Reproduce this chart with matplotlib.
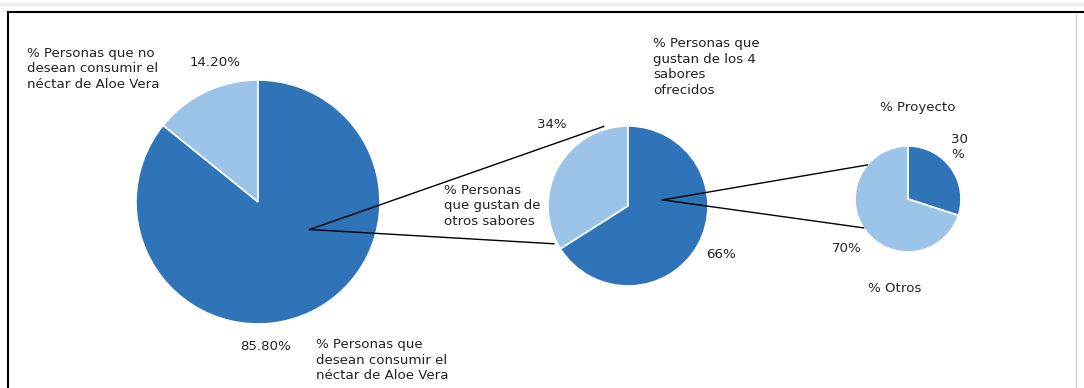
import matplotlib.pyplot as plt
import numpy as np

# survey results, three nested pies
consumo_vals = [14.2, 85.8]
consumo_labels = ['14.20%', '85.80%']
sabores_vals = [34, 66]
sabores_labels = ['34%', '66%']
proyecto_vals = [30, 70]
proyecto_labels = ['30\n%', '70%']

dark = '#2f73b8'
light = '#9cc3e8'
W, H = 1084, 388

plt.rcParams['font.family'] = ['DejaVu Sans']

fig = plt.figure(figsize=(W / 100, H / 100), dpi=100)
ax = fig.add_axes([0, 0, 1, 1])

# pie centres and radii in pixel units (y down)
p1 = (258, 202, 122)
p2 = (628, 206, 80)
p3 = (908, 199, 53)


def draw_pie(p, vals, colors, counterclock):
    cx, cy, r = p
    # axis is y-down, so flip the direction to keep the slices where they belong
    ax.pie(vals, colors=colors, center=(cx, cy), radius=r, startangle=-90,
           counterclock=not counterclock, frame=True,
           wedgeprops=dict(edgecolor='white', linewidth=1.2))


def pt(p, ang, frac):
    cx, cy, r = p
    a = np.radians(ang)
    return cx + frac * r * np.cos(a), cy - frac * r * np.sin(a)


draw_pie(p1, consumo_vals, [light, dark], True)
draw_pie(p2, sabores_vals, [light, dark], True)
draw_pie(p3, proyecto_vals, [dark, light], False)
ax.set_xlim(0, W)
ax.set_ylim(H, 0)
ax.set_aspect('equal')
ax.axis('off')

# connector lines between the pies
s1 = pt(p1, -28, 0.48)
for ang in (107, 207):
    e = pt(p2, ang, 1.04)
    ax.plot([s1[0], e[0]], [s1[1], e[1]], color='black', lw=1.0)
s2 = pt(p2, 10, 0.44)
for ang in (140, 213):
    e = pt(p3, ang, 1.0)
    ax.plot([s2[0], e[0]], [s2[1], e[1]], color='black', lw=1.0)

# frame: dark top and left edges, faint right edge
ax.plot([8, W], [12, 12], color='black', lw=1.5)
ax.plot([8, 8], [12, H], color='black', lw=1.5)
ax.plot([1076, 1076], [14, H], color='#d8d8d8', lw=1.0)
ax.plot([0, W], [4, 4], color='#ececec', lw=2.0)

fs = 9.6
tc = '#222222'
ls = 1.25
kw = dict(fontsize=fs, color=tc, linespacing=ls)
ax.text(27, 47, '% Personas que no\ndesean consumir el\nnéctar de Aloe Vera', va='top', ha='left', **kw)
ax.text(190, 62, consumo_labels[0], va='center', ha='left', **kw)
ax.text(240, 347, consumo_labels[1], va='center', ha='left', **kw)
ax.text(316, 338, '% Personas que\ndesean consumir el\nnéctar de Aloe Vera', va='top', ha='left', **kw)

ax.text(537, 124, sabores_labels[0], va='center', ha='left', **kw)
ax.text(653, 37, '% Personas que\ngustan de los 4\nsabores\nofrecidos', va='top', ha='left', **kw)
ax.text(444, 184, '% Personas\nque gustan de\notros sabores', va='top', ha='left', **kw)
ax.text(706, 255, sabores_labels[1], va='center', ha='left', **kw)

ax.text(880, 108, '% Proyecto', va='center', ha='left', **kw)
ax.text(951, 133, proyecto_labels[0], va='top', ha='left', **kw)
ax.text(832, 248, proyecto_labels[1], va='center', ha='left', **kw)
ax.text(868, 289, '% Otros', va='center', ha='left', **kw)

fig.savefig('out.png', dpi=100)
